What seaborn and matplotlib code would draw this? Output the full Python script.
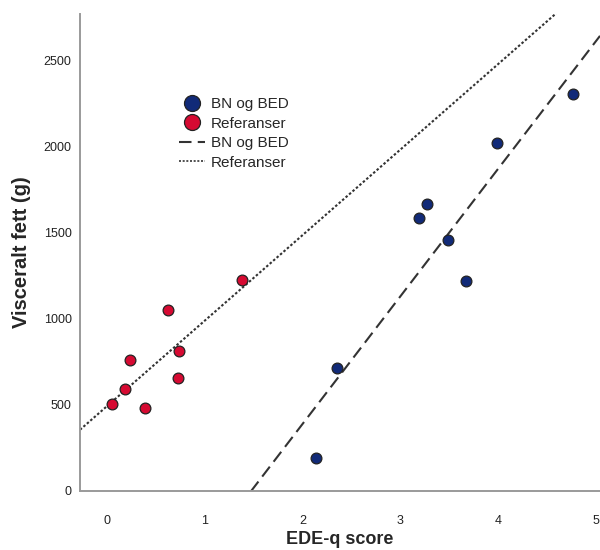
import matplotlib
matplotlib.use("Agg")
import matplotlib.pyplot as plt
from matplotlib.lines import Line2D
import seaborn as sns
import pandas as pd

# EDE-q score and visceral fat (g) per participant
bn_bed_edeq = [4.77, 3.99, 3.28, 3.19, 3.49, 3.67, 2.35, 2.14]
bn_bed_fat = [2308, 2022, 1669, 1585, 1459, 1221, 715, 192]
ref_edeq = [0.05, 0.18, 0.24, 0.39, 0.62, 0.74, 0.73, 1.38]
ref_fat = [506, 595, 762, 484, 1052, 812, 657, 1227]

groups = ["BN og BED", "Referanser"]
colors = {"BN og BED": "#112a78", "Referanser": "#d60a32"}
line_styles = {"BN og BED": (0, (6, 3)), "Referanser": (0, (1.2, 1.0))}

df = pd.DataFrame({
    "EDE-q score": bn_bed_edeq + ref_edeq,
    "Visceralt fett (g)": bn_bed_fat + ref_fat,
    "Gruppe": [groups[0]] * len(bn_bed_edeq) + [groups[1]] * len(ref_edeq),
})

sns.set_style("white")
plt.rcParams["font.family"] = ["Liberation Sans", "DejaVu Sans"]

fig = plt.figure(figsize=(6, 5.5), dpi=100)
ax = fig.add_axes([0.1333, 0.1073, 0.8667, 0.8672])
ax.set_xlim(-0.276, 5.046)
ax.set_ylim(0, 2773)

for g in groups:
    sub = df[df["Gruppe"] == g]
    sns.regplot(
        data=sub, x="EDE-q score", y="Visceralt fett (g)", ax=ax,
        ci=None, truncate=False,
        scatter_kws=dict(s=60, color=colors[g], edgecolor="#222222",
                         linewidths=0.9, alpha=1, zorder=3),
        line_kws=dict(color="#333333", lw=1.5, linestyle=line_styles[g], zorder=2),
    )

ax.set_xlim(-0.276, 5.046)
ax.set_ylim(0, 2773)
ax.set_xticks([0, 1, 2, 3, 4, 5])
ax.set_yticks([0, 500, 1000, 1500, 2000, 2500])

for side in ["top", "right"]:
    ax.spines[side].set_visible(False)
for side in ["left", "bottom"]:
    ax.spines[side].set_color("#9a9a9a")
    ax.spines[side].set_linewidth(1.4)

ax.tick_params(axis="x", length=0, pad=17, labelsize=9, labelcolor="#222222")
ax.tick_params(axis="y", length=0, pad=6, labelsize=9, labelcolor="#222222")

ax.set_xlabel("EDE-q score", fontsize=13, fontweight="bold", labelpad=3)
ax.set_ylabel("Visceralt fett (g)", fontsize=14.5, fontweight="bold", labelpad=9)

handles = [
    Line2D([], [], linestyle="none", marker="o", markersize=11.5,
           markerfacecolor=colors[groups[0]], markeredgecolor="#222222", markeredgewidth=0.9),
    Line2D([], [], linestyle="none", marker="o", markersize=11.5,
           markerfacecolor=colors[groups[1]], markeredgecolor="#222222", markeredgewidth=0.9),
    Line2D([], [], color="#333333", lw=1.5, linestyle=line_styles[groups[0]]),
    Line2D([], [], color="#333333", lw=1.2, linestyle=line_styles[groups[1]]),
]
ax.legend(handles, groups + groups, loc="upper left", bbox_to_anchor=(0.17, 0.848),
          frameon=False, fontsize=11, handlelength=1.7, handletextpad=0.4,
          labelspacing=0.36, borderpad=0.2)

fig.savefig("out.png", dpi=100)
